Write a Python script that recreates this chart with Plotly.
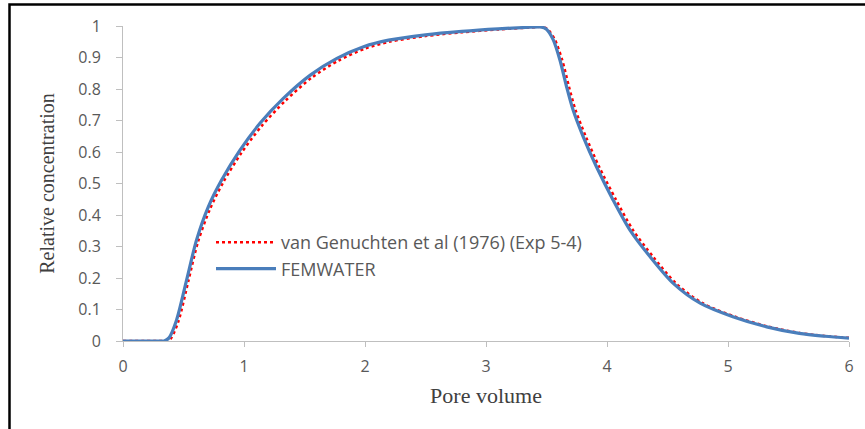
import plotly.graph_objects as go

# FEMWATER (blue solid)
fem_x = [0, 0.3, 0.34, 0.38, 0.443, 0.526, 0.608, 0.705, 0.815, 0.967, 1.132, 1.325, 1.548, 1.768,
         1.988, 2.195, 2.5, 2.8, 3.1, 3.364, 3.45, 3.5, 3.556, 3.611, 3.666, 3.72, 3.803, 3.913,
         4.05, 4.19, 4.355, 4.548, 4.77, 5.04, 5.32, 5.59, 5.8, 6.0]
fem_y = [0, 0, 0, 0.01, 0.067, 0.194, 0.321, 0.426, 0.511, 0.606, 0.691, 0.77, 0.844, 0.897,
         0.934, 0.955, 0.972, 0.983, 0.991, 0.996, 0.997, 0.99, 0.956, 0.892, 0.807, 0.733, 0.649,
         0.553, 0.448, 0.352, 0.268, 0.183, 0.12, 0.077, 0.045, 0.024, 0.015, 0.009]

# van Genuchten et al (1976) (red dotted)
vg_x = [0, 0.3, 0.37, 0.4, 0.46, 0.54, 0.62, 0.72, 0.83, 0.98, 1.145, 1.34, 1.56, 1.78, 2.0, 2.2,
        2.5, 2.8, 3.1, 3.364, 3.46, 3.51, 3.57, 3.63, 3.686, 3.74, 3.825, 3.935, 4.075, 4.215, 4.38,
        4.57, 4.79, 5.06, 5.34, 5.6, 5.8, 6.0]
vg_y = [0, 0, 0, 0.01, 0.065, 0.19, 0.315, 0.42, 0.505, 0.598, 0.682, 0.762, 0.836, 0.89, 0.928,
        0.95, 0.968, 0.98, 0.989, 0.995, 0.997, 0.99, 0.956, 0.892, 0.807, 0.733, 0.649, 0.553,
        0.448, 0.352, 0.268, 0.183, 0.12, 0.077, 0.045, 0.025, 0.016, 0.01]

x_ticks = [0, 1, 2, 3, 4, 5, 6]
y_ticks = [0, 0.1, 0.2, 0.3, 0.4, 0.5, 0.6, 0.7, 0.8, 0.9, 1]
y_labels = ["0", "0.1", "0.2", "0.3", "0.4", "0.5", "0.6", "0.7", "0.8", "0.9", "1"]

W, H = 865, 429
L, R, T, B = 123, 16, 26, 88
PW, PH = W - L - R, H - T - B

def px_x(p):
    return (p - L) / PW

def px_y(p):
    return (H - B - p) / PH

fig = go.Figure()
fig.add_trace(go.Scatter(x=vg_x, y=vg_y, mode="lines", name="van Genuchten et al (1976) (Exp 5-4)",
                         line=dict(color="#FF0000", width=2.5, dash="dot", shape="spline", smoothing=0.8),
                         legendgroup="a"))
fig.add_trace(go.Scatter(x=fem_x, y=fem_y, mode="lines", name="FEMWATER",
                         line=dict(color="#4A7EBB", width=3.2, shape="spline", smoothing=0.8),
                         legendgroup="b"))

tickfont = dict(family="Open Sans", size=16, color="#595959")
fig.update_layout(
    width=W, height=H,
    margin=dict(l=L, r=R, t=T, b=B, autoexpand=False),
    paper_bgcolor="white", plot_bgcolor="white",
    showlegend=True,
    legend=dict(x=px_x(211), y=px_y(224), xanchor="left", yanchor="top",
                font=dict(family="Open Sans", size=18, color="#595959"),
                bgcolor="rgba(0,0,0,0)", tracegroupgap=0, itemwidth=60),
    xaxis=dict(range=[0, 6], tickvals=x_ticks, ticktext=[str(v) for v in x_ticks],
               showgrid=False, zeroline=False, showline=True, linecolor="#BFBFBF", linewidth=1,
               ticks="outside", ticklen=5, tickcolor="#BFBFBF", tickfont=tickfont,
               ticklabelstandoff=6,
               title=dict(text="Pore volume", font=dict(family="Liberation Serif", size=22, color="#404040"),
                          standoff=11)),
    yaxis=dict(range=[0, 1], tickvals=y_ticks, ticktext=y_labels,
               showgrid=False, zeroline=False, showline=True, linecolor="#BFBFBF", linewidth=1,
               ticks="outside", ticklen=6, tickcolor="#BFBFBF", tickfont=tickfont,
               ticklabelstandoff=12,
               title=dict(text="Relative concentration",
                          font=dict(family="Liberation Serif", size=20, color="#404040"),
                          standoff=18)),
    shapes=[dict(type="rect", xref="paper", yref="paper",
                 x0=px_x(9.5), x1=px_x(W + 10), y0=px_y(H + 10), y1=px_y(4.5),
                 line=dict(color="black", width=2.5), fillcolor="rgba(0,0,0,0)", layer="above")],
)

fig.write_html("out.html")
